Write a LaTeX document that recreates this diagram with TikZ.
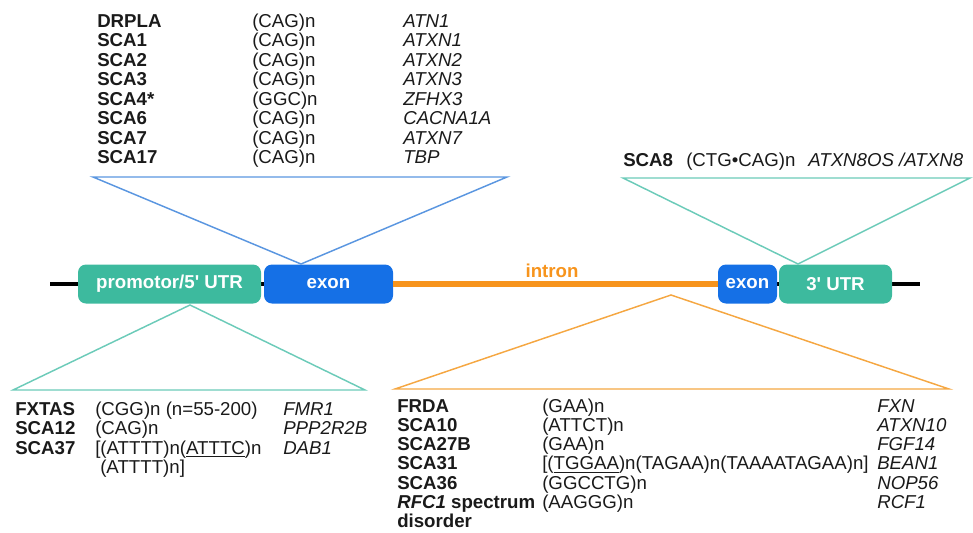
\documentclass[tikz,border=0pt]{standalone}
\usepackage{fontspec}
\setmainfont{Liberation Sans}[Ligatures=TeXOff]
\definecolor{txt}{HTML}{1A1A1A}
\definecolor{tealbox}{HTML}{3DBA9E}
\definecolor{bluebox}{HTML}{1570E6}
\definecolor{orng}{HTML}{F7941D}
\definecolor{blueln}{HTML}{5A96E0}
\definecolor{tealln}{HTML}{6CCBB9}
\definecolor{orngln}{HTML}{F5A742}
\begin{document}
\begin{tikzpicture}[x=0.75pt,y=-0.75pt,
  base/.style={anchor=base west, inner sep=0pt, text=txt, font=\fontsize{14}{16}\selectfont},
  dis/.style={base, font=\fontsize{14}{16}\selectfont\bfseries},
  gene/.style={base, font=\fontsize{14}{16}\selectfont\itshape},
  box/.style={rounded corners=6pt, inner sep=0pt, minimum height=29.25pt, text=white,
    font=\fontsize{14}{16}\selectfont\bfseries},
  tri/.style={line width=1.1pt, line join=miter}
]
\useasboundingbox (0,0) rectangle (973,532);

% backbone
\coordinate (bl) at (50,284);
\coordinate (br) at (920,284);
\draw[line width=3.2pt, black] (bl) -- (br);

\node[box, fill=tealbox, minimum width=137.25pt] (prom) at (169.5,284) {promotor/5' UTR};
\node[box, fill=bluebox, minimum width=96.75pt] (ex1) at (328.5,284) {exon};
\node[box, fill=bluebox, minimum width=44.25pt] (ex2) at (747.5,284) {exon};
\node[box, fill=tealbox, minimum width=84.75pt] (utr) at (835.5,284) {3' UTR};
\draw[line width=3.8pt, orng] (ex1.east) -- (ex2.west);
\node[inner sep=0pt, text=orng, font=\fontsize{14}{16}\selectfont\bfseries] (intr) at (552,271) {intron};

% triangles
\coordinate (a1) at (301,264);
\coordinate (a2) at (93,177);
\coordinate (a3) at (507,177);
\draw[tri, blueln] (a1) -- (a2) -- (a3) -- cycle;
\coordinate (b1) at (798,264);
\coordinate (b2) at (623,178);
\coordinate (b3) at (970,178);
\draw[tri, tealln] (b1) -- (b2) -- (b3) -- cycle;
\coordinate (c1) at (190,305);
\coordinate (c2) at (13,390);
\coordinate (c3) at (365,390);
\draw[tri, tealln] (c1) -- (c2) -- (c3) -- cycle;
\coordinate (d1) at (671,295);
\coordinate (d2) at (395,389);
\coordinate (d3) at (949,389);
\draw[tri, orngln] (d1) -- (d2) -- (d3) -- cycle;

% top table
\foreach \d/\r/\g [count=\i from 0] in {DRPLA/(CAG)n/ATN1, SCA1/(CAG)n/ATXN1, SCA2/(CAG)n/ATXN2,
  SCA3/(CAG)n/ATXN3, SCA4*/(GGC)n/ZFHX3, SCA6/(CAG)n/CACNA1A, SCA7/(CAG)n/ATXN7, SCA17/(CAG)n/TBP}{
  \node[dis] (td\i) at (97,27+19.5*\i) {\d};
  \node[base] (tr\i) at (252,27+19.5*\i) {\r};
  \node[gene] (tg\i) at (403,27+19.5*\i) {\g};
}

% SCA8
\node[dis] (s8d) at (623,166) {SCA8};
\node[base] (s8r) at (686,166) {(CTG•CAG)n};
\node[gene] (s8g) at (808,166) {ATXN8OS /ATXN8};

% bottom left
\node[dis] (l1d) at (15,415) {FXTAS};
\node[base] (l1r) at (95,415) {(CGG)n (n=55-200)};
\node[gene] (l1g) at (283,415) {FMR1};
\node[dis] (l2d) at (15,434.5) {SCA12};
\node[base] (l2r) at (95,434.5) {(CAG)n};
\node[gene] (l2g) at (283,434.5) {PPP2R2B};
\node[dis] (l3d) at (15,454) {SCA37};
\node[base] (l3r) at (95,454) {[(ATTTT)n(\underline{ATTTC})n};
\node[gene] (l3g) at (283,454) {DAB1};
\node[base] (l4r) at (100,473.5) {(ATTTT)n]};

% bottom right
\foreach \d/\r/\g [count=\i from 0] in {FRDA/(GAA)n/FXN, SCA10/(ATTCT)n/ATXN10, SCA27B/(GAA)n/FGF14,
  SCA31/{[(\underline{TGGAA})n(TAGAA)n(TAAAATAGAA)n]}/BEAN1, SCA36/(GGCCTG)n/NOP56,
  {\textit{RFC1} spectrum}/(AAGGG)n/RCF1}{
  \node[dis] (rd\i) at (397,412+19.3*\i) {\d};
  \node[base] (rr\i) at (542,412+19.3*\i) {\r};
  \node[gene] (rg\i) at (877,412+19.3*\i) {\g};
}
\node[dis] (rd6) at (397,527.8) {disorder};
\end{tikzpicture}
\end{document}
